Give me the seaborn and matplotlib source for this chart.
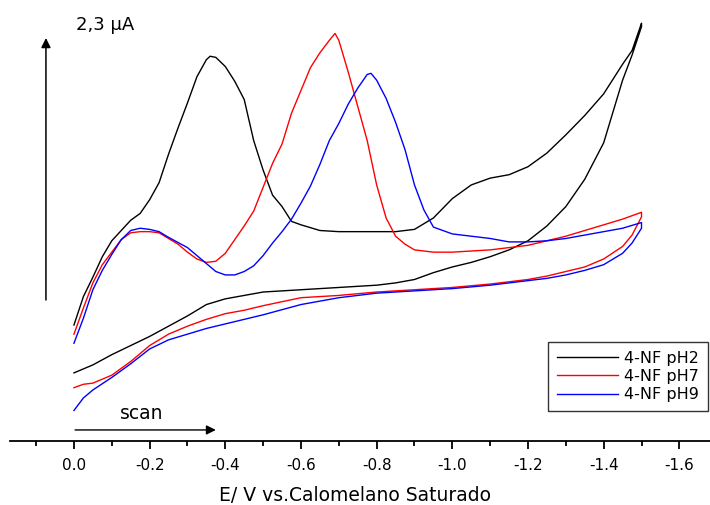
import numpy as np
import pandas as pd
import matplotlib
matplotlib.use("Agg")
import matplotlib.pyplot as plt
import seaborn as sns

plt.rcParams['font.family'] = ['DejaVu Sans']
plt.rcParams['axes.unicode_minus'] = False

# ---- data (E in V vs SCE, I in uA) ----
series_names = ["4-NF pH2", "4-NF pH7", "4-NF pH9"]
series_colors = ["#000000", "#ff0000", "#0000ff"]

E_ph2_fwd = [0, -0.025, -0.05, -0.075, -0.1, -0.125, -0.15, -0.175, -0.2, -0.225, -0.25, -0.275,
             -0.3, -0.325, -0.35, -0.36, -0.375, -0.4, -0.425, -0.45, -0.475, -0.5, -0.525, -0.55,
             -0.575, -0.6, -0.65, -0.7, -0.75, -0.8, -0.85, -0.875, -0.9, -0.95, -1.0, -1.05, -1.1,
             -1.15, -1.2, -1.25, -1.3, -1.35, -1.4, -1.45, -1.475, -1.5]
I_ph2_fwd = [-0.22, 0.03, 0.20, 0.38, 0.52, 0.61, 0.70, 0.76, 0.88, 1.03, 1.28, 1.51,
             1.73, 1.96, 2.11, 2.14, 2.13, 2.05, 1.92, 1.76, 1.40, 1.14, 0.92, 0.82,
             0.69, 0.66, 0.61, 0.60, 0.60, 0.60, 0.60, 0.61, 0.62, 0.72, 0.89, 1.01, 1.07,
             1.10, 1.17, 1.29, 1.45, 1.62, 1.81, 2.07, 2.19, 2.43]
E_ph2_rev = [-1.5, -1.475, -1.45, -1.4, -1.35, -1.3, -1.25, -1.2, -1.15, -1.1, -1.05, -1.0,
             -0.95, -0.9, -0.85, -0.8, -0.7, -0.6, -0.5, -0.45, -0.4, -0.35, -0.3, -0.25,
             -0.2, -0.15, -0.1, -0.05, 0]
I_ph2_rev = [2.40, 2.15, 1.93, 1.38, 1.06, 0.82, 0.65, 0.52, 0.44, 0.38, 0.33, 0.29,
             0.24, 0.18, 0.15, 0.13, 0.11, 0.09, 0.07, 0.04, 0.01, -0.04, -0.14, -0.23,
             -0.32, -0.40, -0.48, -0.57, -0.64]

E_ph7_fwd = [0, -0.025, -0.05, -0.075, -0.1, -0.125, -0.15, -0.175, -0.2, -0.225, -0.25, -0.275,
             -0.3, -0.325, -0.35, -0.375, -0.4, -0.425, -0.45, -0.475, -0.5, -0.525, -0.55,
             -0.575, -0.6, -0.625, -0.65, -0.675, -0.69, -0.7, -0.725, -0.75, -0.775, -0.8,
             -0.825, -0.85, -0.875, -0.9, -0.95, -1.0, -1.1, -1.2, -1.25, -1.3, -1.35, -1.4,
             -1.45, -1.5]
I_ph7_fwd = [-0.30, -0.07, 0.15, 0.31, 0.42, 0.53, 0.59, 0.60, 0.60, 0.59, 0.54, 0.49,
             0.42, 0.36, 0.33, 0.34, 0.41, 0.53, 0.65, 0.78, 0.99, 1.20, 1.37,
             1.64, 1.84, 2.04, 2.17, 2.28, 2.34, 2.28, 2.00, 1.70, 1.40, 1.01,
             0.72, 0.56, 0.49, 0.44, 0.42, 0.42, 0.44, 0.48, 0.52, 0.56, 0.61, 0.66,
             0.71, 0.77]
E_ph7_rev = [-1.5, -1.475, -1.45, -1.4, -1.35, -1.3, -1.25, -1.2, -1.15, -1.1, -1.0, -0.9,
             -0.8, -0.7, -0.6, -0.5, -0.45, -0.4, -0.35, -0.3, -0.25, -0.2, -0.15, -0.1,
             -0.05, -0.025, 0]
I_ph7_rev = [0.73, 0.57, 0.47, 0.36, 0.29, 0.25, 0.21, 0.18, 0.16, 0.14, 0.11, 0.09,
             0.07, 0.04, 0.02, -0.05, -0.09, -0.12, -0.17, -0.23, -0.30, -0.40, -0.54, -0.66,
             -0.73, -0.74, -0.77]

E_ph9_fwd = [0, -0.025, -0.05, -0.075, -0.1, -0.125, -0.15, -0.175, -0.2, -0.225, -0.25, -0.3,
             -0.35, -0.375, -0.4, -0.425, -0.45, -0.475, -0.5, -0.525, -0.55, -0.575, -0.6,
             -0.625, -0.65, -0.675, -0.7, -0.725, -0.75, -0.775, -0.785, -0.8, -0.825, -0.85,
             -0.875, -0.9, -0.925, -0.95, -1.0, -1.05, -1.1, -1.15, -1.2, -1.25, -1.3, -1.35,
             -1.4, -1.45, -1.5]
I_ph9_fwd = [-0.38, -0.16, 0.09, 0.26, 0.40, 0.53, 0.61, 0.63, 0.62, 0.60, 0.55, 0.46,
             0.32, 0.25, 0.22, 0.22, 0.25, 0.30, 0.39, 0.50, 0.60, 0.71, 0.85,
             1.00, 1.19, 1.40, 1.55, 1.72, 1.86, 1.98, 1.99, 1.93, 1.77, 1.56,
             1.32, 1.01, 0.79, 0.64, 0.58, 0.56, 0.54, 0.51, 0.51, 0.52, 0.54, 0.57,
             0.60, 0.63, 0.68]
E_ph9_rev = [-1.5, -1.475, -1.45, -1.4, -1.35, -1.3, -1.25, -1.2, -1.1, -1.0, -0.9, -0.8,
             -0.7, -0.6, -0.5, -0.45, -0.4, -0.35, -0.3, -0.25, -0.2, -0.15, -0.1, -0.05,
             -0.025, 0]
I_ph9_rev = [0.63, 0.50, 0.41, 0.31, 0.26, 0.22, 0.19, 0.17, 0.13, 0.10, 0.08, 0.06,
             0.02, -0.04, -0.13, -0.17, -0.21, -0.25, -0.30, -0.35, -0.43, -0.56, -0.68, -0.79,
             -0.86, -0.97]

x_ticks = [0.0, -0.2, -0.4, -0.6, -0.8, -1.0, -1.2, -1.4, -1.6]
x_tick_labels = ["0.0", "-0.2", "-0.4", "-0.6", "-0.8", "-1.0", "-1.2", "-1.4", "-1.6"]
x_minor = [0.1, -0.1, -0.3, -0.5, -0.7, -0.9, -1.1, -1.3, -1.5]
scale_bar = 2.3  # uA

curves = [
    (E_ph2_fwd + E_ph2_rev, I_ph2_fwd + I_ph2_rev),
    (E_ph7_fwd + E_ph7_rev, I_ph7_fwd + I_ph7_rev),
    (E_ph9_fwd + E_ph9_rev, I_ph9_fwd + I_ph9_rev),
]

frames = []
for name, (E, I) in zip(series_names, curves):
    frames.append(pd.DataFrame({"E": E, "I": I, "series": name, "order": np.arange(len(E))}))
df = pd.concat(frames, ignore_index=True)

# ---- figure ----
fig = plt.figure(figsize=(7.1, 5.05), dpi=100)
ax = fig.add_axes([10 / 710, 64 / 505, 700 / 710, 431 / 505])

for name, color in zip(series_names, series_colors):
    sub = df[df["series"] == name]
    sns.lineplot(data=sub, x="E", y="I", sort=False, estimator=None, color=color,
                 linewidth=1.0, label=name, ax=ax)

ax.set_xlim(0.169, -1.681)
ax.set_ylim(-1.238, 2.546)

for s in ["top", "right", "left"]:
    ax.spines[s].set_visible(False)
ax.spines["bottom"].set_linewidth(1.3)
ax.spines["bottom"].set_color("black")

ax.set_xticks(x_ticks)
ax.set_xticklabels(x_tick_labels)
ax.set_xticks(x_minor, minor=True)
ax.set_yticks([])
ax.tick_params(axis="x", which="major", direction="out", length=6, width=1.3,
               labelsize=11, pad=6, colors="black")
ax.tick_params(axis="x", which="minor", direction="out", length=3.8, width=1.3)
ax.set_ylabel("")
ax.set_xlabel("E/ V vs.Calomelano Saturado", fontsize=13.5)
ax.xaxis.set_label_coords(0.493, -0.105)

# vertical scale arrow
ax.annotate("", xy=(0.074, scale_bar), xytext=(0.074, 0.0),
            arrowprops=dict(arrowstyle="-|>", color="black", lw=1.1, mutation_scale=14,
                            shrinkA=0, shrinkB=0), annotation_clip=False)
ax.text(-0.082, 2.41, "2,3 \u03bcA", fontsize=13, ha="center", va="center")

# scan arrow
ax.annotate("", xy=(-0.375, -1.141), xytext=(-0.003, -1.141),
            arrowprops=dict(arrowstyle="-|>", color="black", lw=1.0, mutation_scale=14,
                            shrinkA=0, shrinkB=0), annotation_clip=False)
ax.text(-0.18, -1.0, "scan", fontsize=13.5, ha="center", va="center")

leg = ax.legend(loc="upper right", bbox_to_anchor=(708 / 710, 163 / 505),
                bbox_transform=fig.transFigure, frameon=True, fancybox=False,
                edgecolor="black", fontsize=11.5, handlelength=3.8, handletextpad=0.4,
                labelspacing=0.2, borderpad=0.55, borderaxespad=0)
leg.get_frame().set_linewidth(1.0)

fig.savefig("out.png", dpi=100)
